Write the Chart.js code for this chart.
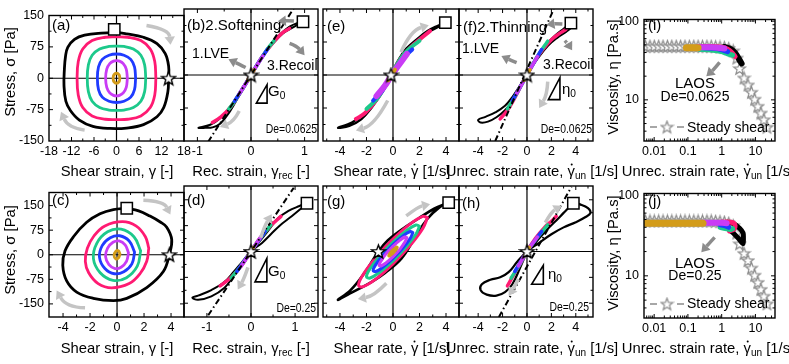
<!DOCTYPE html>
<html><head><meta charset="utf-8">
<script src="https://cdn.jsdelivr.net/npm/chart.js@4.4.0/dist/chart.umd.min.js"></script>
<style>
html,body{margin:0;padding:0;background:#fff;}
body{width:789px;height:364px;overflow:hidden;position:relative;font-family:"Liberation Sans",Arial,Helvetica,sans-serif;color:#000;}
canvas{position:absolute;z-index:1;}
.t{position:absolute;white-space:nowrap;line-height:1;font-size:14px;z-index:5;}
.c{transform:translate(-50%,-50%);}
.ax{font-size:14.8px;}
.r{transform:translate(-50%,-50%) rotate(-90deg);}
.rt{transform:translate(-100%,-50%);}
.de{font-size:13px;transform-origin:100% 50%;transform:translate(-100%,-50%) scaleX(0.8);}
.m{transform:translate(0,-50%);}
sub{font-size:68%;vertical-align:-0.3em;line-height:0;}
.big{font-size:15px;}
.gd{position:relative;display:inline-block;}
.gd::after{content:"";position:absolute;left:52%;top:0px;width:2.2px;height:2.2px;background:#000;border-radius:50%;transform:translateX(-50%);}
</style></head><body>
<!-- axis titles -->
<div class="t ax c" style="left:117px;top:171px">Shear strain, γ [-]</div>
<div class="t ax c" style="left:251px;top:171px">Rec. strain, γ<sub>rec</sub> [-]</div>
<div class="t ax c" style="left:392px;top:171px">Shear rate, <span class="gd">γ</span> [1/s]</div>
<div class="t ax c" style="left:532px;top:171px">Unrec. strain rate, <span class="gd">γ</span><sub>un</sub> [1/s]</div>
<div class="t ax c" style="left:708px;top:171px">Unrec. strain rate, <span class="gd">γ</span><sub>un</sub> [1/s]</div>
<div class="t ax c" style="left:117px;top:348px">Shear strain, γ [-]</div>
<div class="t ax c" style="left:251px;top:348px">Rec. strain, γ<sub>rec</sub> [-]</div>
<div class="t ax c" style="left:392px;top:348px">Shear rate, <span class="gd">γ</span> [1/s]</div>
<div class="t ax c" style="left:532px;top:348px">Unrec. strain rate, <span class="gd">γ</span><sub>un</sub> [1/s]</div>
<div class="t ax c" style="left:708px;top:348px">Unrec. strain rate, <span class="gd">γ</span><sub>un</sub> [1/s]</div>
<div class="t ax r" style="left:10px;top:72px">Stress, σ [Pa]</div>
<div class="t ax r" style="left:10px;top:250px">Stress, σ [Pa]</div>
<div class="t ax r" style="left:613px;top:77px">Viscosity, η [Pa.s]</div>
<div class="t ax r" style="left:613px;top:253px">Viscosity, η [Pa.s]</div>
<!-- panel annotations -->
<div class="t big m" style="left:52px;top:24px">(a)</div>
<div class="t big m" style="left:52px;top:199px">(c)</div>
<div class="t big m" style="left:187px;top:24px">(b)2.Softening</div>
<div class="t m" style="left:192px;top:53px">1.LVE</div>
<div class="t m" style="left:267px;top:65px">3.Recoil</div>
<div class="t big m" style="left:268px;top:90px">G<sub>0</sub></div>
<div class="t de" style="left:317px;top:128px">De=0.0625</div>
<div class="t big m" style="left:187px;top:199px">(d)</div>
<div class="t big m" style="left:268px;top:270px">G<sub>0</sub></div>
<div class="t de" style="left:316px;top:307px">De=0.25</div>
<div class="t big m" style="left:327px;top:25px">(e)</div>
<div class="t big m" style="left:327px;top:200px">(g)</div>
<div class="t big m" style="left:463px;top:26px">(f)2.Thinning</div>
<div class="t m" style="left:462px;top:48px">1.LVE</div>
<div class="t m" style="left:543px;top:64px">3.Recoil</div>
<div class="t big m" style="left:562px;top:88px">η<sub>0</sub></div>
<div class="t de" style="left:592px;top:128px">De=0.0625</div>
<div class="t big m" style="left:462px;top:202px">(h)</div>
<div class="t big m" style="left:548px;top:273px">η<sub>0</sub></div>
<div class="t de" style="left:589px;top:306px">De=0.25</div>
<div class="t big m" style="left:648px;top:24px">(i)</div>
<div class="t c" style="left:695px;top:82px;font-size:15px">LAOS</div>
<div class="t c" style="left:695px;top:96px">De=0.0625</div>
<div class="t m" style="left:687px;top:127px">Steady shear</div>
<div class="t big m" style="left:648px;top:200px">(j)</div>
<div class="t c" style="left:695px;top:262px;font-size:15px">LAOS</div>
<div class="t c" style="left:695px;top:275px">De=0.25</div>
<div class="t m" style="left:687px;top:303px">Steady shear</div>
<script>
// ================= DATA =================
// (a) stress vs strain, De=0.0625  [gamma, sigma]
const a_black=[[13.9,0],[13.7,-32],[12.6,-70],[10.8,-92],[7.2,-111],[2.7,-119],[-1.8,-120],[-6.3,-115],[-9.9,-100],[-12.3,-77],[-13.5,-55],[-14,-17],[-13.9,21],[-13.6,52],[-13,74],[-11.2,93],[-8.5,103],[-4,108],[0,109],[2.7,106],[7.2,98],[10.8,83],[13,59],[13.9,29],[13.9,0]];
const a_pink=[[10.5,0],[10.2,-40],[9,-70],[6.5,-90],[3,-98],[0,-99],[-3,-98],[-6.5,-90],[-9,-70],[-10.2,-40],[-10.5,0],[-10.2,40],[-9,70],[-6.5,90],[-3,98],[0,99],[3,98],[6.5,90],[9,70],[10.2,40],[10.5,0]];
const a_green=[[7.8,0],[7.5,-32],[6.5,-55],[4.5,-70],[2,-76],[0,-77],[-2,-76],[-4.5,-70],[-6.5,-55],[-7.5,-32],[-7.8,0],[-7.5,32],[-6.5,55],[-4.5,70],[-2,76],[0,77],[2,76],[4.5,70],[6.5,55],[7.5,32],[7.8,0]];
const a_blue=[[5.1,0],[4.8,-27],[3.8,-45],[2,-55],[0,-58],[-2,-55],[-3.8,-45],[-4.8,-27],[-5.1,0],[-4.8,27],[-3.8,45],[-2,55],[0,58],[2,55],[3.8,45],[4.8,27],[5.1,0]];
const a_violet=[[2.9,0],[2.6,-22],[1.8,-35],[0.8,-41],[0,-42],[-0.8,-41],[-1.8,-35],[-2.6,-22],[-2.9,0],[-2.6,22],[-1.8,35],[-0.8,41],[0,42],[0.8,41],[1.8,35],[2.6,22],[2.9,0]];
const a_orange=[[0.9,0],[0.7,-8],[0,-12],[-0.7,-8],[-0.9,0],[-0.7,8],[0,12],[0.7,8],[0.9,0]];
const a_star=[[13.9,0]], a_square=[[-0.6,117]];
// (b) stress vs recoverable strain, De=0.0625
const b_black=[[0,0],[0.2,38],[0.35,64],[0.54,92],[0.72,110],[0.88,119],[0.97,121],[0.84,112],[0.6,95],[0.4,70],[0.2,40],[0,2],[-0.2,-37],[-0.39,-72],[-0.57,-98],[-0.76,-113],[-0.98,-120],[-0.85,-120],[-0.72,-119],[-0.57,-110],[-0.39,-82],[-0.2,-42],[0,0]];
const b_pink=[[-0.72,-108],[-0.58,-97],[-0.4,-76],[-0.2,-40],[0,0],[0.2,40],[0.4,72],[0.56,93],[0.72,106]];
const b_green=[[-0.42,-78],[-0.3,-59],[-0.15,-30],[0,0],[0.15,30],[0.3,58],[0.43,78]];
const b_blue=[[-0.31,-60],[-0.15,-30],[0,0],[0.15,30],[0.31,59]];
const b_violet=[[-0.22,-43],[-0.1,-20],[0,0],[0.1,20],[0.22,43]];
const b_orange=[[-0.06,-12],[0.06,12]];
const b_G0=[[-0.8,-152],[0.8,152]];
const b_star=[[0,0]], b_square=[[0.97,121]];
// (e) stress vs shear rate, De=0.0625
const e_black=[[-0.15,0],[0.4,30],[1.0,56],[1.9,79],[2.65,97],[3.4,109],[3.95,119],[3.3,111],[2.6,100],[1.9,84],[1.0,60],[0.4,34],[0,10],[-0.4,-18],[-1.1,-48],[-2.1,-86],[-3.1,-108],[-4.15,-120],[-3.3,-116],[-2.4,-101],[-1.6,-74],[-0.8,-38],[-0.15,0]];
const e_pink=[[-2.8,-100],[-2.1,-86],[-1.1,-50],[-0.15,0],[0.6,38],[1.3,62],[2.1,83],[2.8,100]];
const e_green=[[-2.0,-77],[-1.1,-50],[-0.15,0],[0.9,50],[2.0,78]];
const e_blue=[[-1.5,-58],[-0.8,-36],[-0.1,0],[0.7,36],[1.45,58]];
const e_violet=[[-1.25,-48],[-0.6,-24],[-0.1,0],[0.5,25],[1.05,48]];
const e_orange=[[-0.35,-12],[0.15,12]];
const e_star=[[-0.15,0]], e_square=[[3.95,119]];
// (f) stress vs unrecoverable strain rate, De=0.0625
const f_black=[[0,0],[0.8,40],[1.6,70],[2.4,92],[3.0,105],[3.6,118],[3.7,110],[3.2,98],[2.5,85],[1.7,66],[0.9,38],[0,2],[-0.6,-25],[-1.2,-50],[-1.8,-70],[-2.6,-85],[-3.4,-95],[-4.0,-102],[-3.8,-108],[-3.2,-106],[-2.5,-96],[-1.8,-80],[-1.2,-60],[-0.6,-30],[0,0]];
const f_pink=[[-2.2,-100],[-1.6,-80],[-1.0,-52],[-0.4,-20],[0,0],[0.6,30],[1.3,58],[2.0,80],[2.7,95],[3.2,104]];
const f_green=[[-1.6,-77],[-0.8,-40],[0,0],[0.8,40],[1.7,77]];
const f_blue=[[-1.2,-58],[0,0],[1.2,58]];
const f_violet=[[-0.85,-42],[0,0],[0.85,42]];
const f_orange=[[-0.25,-12],[0.25,12]];
const f_eta0=[[-2.6,-150],[2.2,150]];
const f_star=[[0,0]], f_square=[[3.6,118]];
// (c) stress vs strain, De=0.25
const c_black=[[0.72,142],[1.6,134],[2.44,118],[3.2,100],[3.68,84],[4.05,46],[3.87,0],[3.43,-51],[2.2,-100],[0.72,-133],[-0.27,-140],[-1.76,-133],[-2.99,-114],[-3.73,-80],[-4.02,-32],[-3.85,12],[-3.23,55],[-2.25,99],[-1.26,125],[-0.27,138],[0.72,142]];
const c_pink=[[2.35,20],[2.2,-20],[1.7,-58],[0.9,-88],[-0.4,-101],[-1.4,-88],[-2.1,-55],[-2.35,-20],[-2.2,20],[-1.7,58],[-0.9,88],[0.4,101],[1.4,88],[2.1,55],[2.35,20]];
const c_green=[[1.75,12],[1.5,-35],[0.7,-70],[-0.3,-78],[-1.25,-55],[-1.75,-12],[-1.5,35],[-0.7,70],[0.3,78],[1.25,55],[1.75,12]];
const c_blue=[[1.3,8],[1.1,-28],[0.5,-52],[-0.2,-58],[-0.9,-42],[-1.3,-8],[-1.1,28],[-0.5,52],[0.2,58],[0.9,42],[1.3,8]];
const c_violet=[[0.85,6],[0.7,-20],[0.3,-38],[-0.15,-42],[-0.6,-30],[-0.85,-6],[-0.7,20],[-0.3,38],[0.15,42],[0.6,30],[0.85,6]];
const c_orange=[[0.22,2],[0.1,-10],[-0.1,-12],[-0.22,-2],[-0.1,10],[0.1,12],[0.22,2]];
const c_star=[[3.87,0]], c_square=[[0.72,142]];
// (d) stress vs recoverable strain, De=0.25
const d_black=[[0,0],[0.2,30],[0.4,62],[0.6,95],[0.85,118],[1.1,132],[1.27,140],[1.15,126],[0.9,100],[0.65,75],[0.45,50],[0.25,25],[0,0],[-0.2,-30],[-0.4,-60],[-0.6,-88],[-0.9,-112],[-1.2,-128],[-1.33,-134],[-1.2,-140],[-0.9,-130],[-0.6,-105],[-0.42,-75],[-0.2,-35],[0,0]];
const d_pink=[[-0.7,-100],[-0.45,-75],[-0.2,-38],[0,0],[0.2,38],[0.45,75],[0.68,102]];
const d_green=[[-0.45,-77],[-0.22,-40],[0,0],[0.22,40],[0.45,77]];
const d_blue=[[-0.32,-58],[0,0],[0.32,58]];
const d_violet=[[-0.22,-42],[0,0],[0.22,42]];
const d_orange=[[-0.06,-12],[0.06,12]];
const d_G0=[[-0.97,-185],[0.97,185]];
const d_star=[[0,0]], d_square=[[1.27,140]];
// (g) stress vs shear rate, De=0.25
const g_black=[[4.2,142],[3.5,128],[2.6,95],[1.65,40],[0.65,-20],[-0.6,-62],[-1.6,-88],[-2.65,-110],[-3.4,-125],[-4.15,-140],[-3.2,-112],[-2.15,-62],[-1.1,0],[-0.4,32],[0.6,62],[1.9,95],[3.1,124],[4.2,142]];
const g_pink=[[2.6,98],[2.25,102],[1.3,80],[0,36],[-1.3,-18],[-2.25,-67],[-2.6,-98],[-2.25,-102],[-1.3,-80],[0,-36],[1.3,18],[2.25,67],[2.6,98]];
const g_green=[[2.0,73],[1.73,77],[1.0,60],[0,27],[-1.0,-14],[-1.73,-50],[-2.0,-73],[-1.73,-77],[-1.0,-60],[0,-27],[1.0,14],[1.73,50],[2.0,73]];
const g_blue=[[1.5,55],[1.3,58],[0.75,45],[0,20],[-0.75,-10],[-1.3,-38],[-1.5,-55],[-1.3,-58],[-0.75,-45],[0,-20],[0.75,10],[1.3,38],[1.5,55]];
const g_violet=[[1.05,40],[0.91,42],[0.53,33],[0,15],[-0.53,-7],[-0.91,-28],[-1.05,-40],[-0.91,-42],[-0.53,-33],[0,-15],[0.53,7],[0.91,28],[1.05,40]];
const g_orange=[[0.32,12],[0.28,13],[0.16,10],[0,4.5],[-0.16,-2],[-0.28,-8],[-0.32,-12],[-0.28,-13],[-0.16,-10],[0,-4.5],[0.16,2],[0.28,8],[0.32,12]];
const g_star=[[-1.1,0]], g_square=[[4.2,142]];
// (h) stress vs unrecoverable strain rate, De=0.25
const h_black=[[0,0],[0.8,30],[1.6,62],[2.4,90],[3.0,112],[3.5,130],[3.8,140],[4.4,136],[5.0,126],[5.2,112],[4.8,100],[4.0,85],[3.0,70],[2.0,50],[1.0,25],[0,0],[-0.8,-30],[-1.5,-60],[-2.2,-75],[-3.0,-82],[-3.7,-95],[-3.8,-112],[-3.3,-125],[-2.5,-128],[-1.8,-118],[-1.2,-95],[-0.6,-50],[0,0]];
const h_pink=[[-1.6,-100],[-1.0,-62],[-0.5,-32],[0,0],[0.7,38],[1.5,72],[2.0,88],[2.4,102]];
const h_green=[[-1.3,-77],[-0.6,-38],[0,0],[0.8,38],[1.7,77]];
const h_blue=[[-1.0,-58],[0,0],[1.2,58]];
const h_violet=[[-0.7,-42],[0,0],[0.85,42]];
const h_orange=[[-0.2,-12],[0.2,12]];
const h_eta0=[[-2.3,-190],[3.65,188]];
const h_star=[[0,0]], h_square=[[3.8,140]];
// (i),(j) viscosity vs unrecoverable strain rate
const ss_rate=[0.0055,0.0075,0.0101,0.0136,0.0183,0.0247,0.0333,0.045,0.0606,0.0818,0.11,0.149,0.2,0.27,0.365,0.49,0.66,0.89,1.2,1.62,2.2,2.8,3.4,4.6,6.0,7.6,9.5,11.8,14.5,17.8,22];
const ss_visc=[48,48,48,48,48,48,48,48,48,48,48,48,48,48,48,48,47.5,47,46.5,45,42,34,25,19,15.5,12.5,10.2,8.3,6.8,5.6,4.5];
const i_black=[[1.2,47],[1.7,45],[2.3,41],[2.9,36],[3.4,32],[3.9,29]];
const i_pink=[[0.2,47.5],[0.5,47.5],[1.0,46.5],[1.5,44],[2.0,40],[2.5,35.5]];
const i_green=[[0.22,44],[0.5,43],[1.0,41],[1.5,38.5],[2.1,37]];
const i_blue=[[0.3,46],[0.7,45],[1.1,43],[1.5,41]];
const i_violet=[[0.2,46.5],[0.5,46.5],[0.9,45.5],[1.2,45]];
const i_orange=[[0.09,46],[0.13,46],[0.2,46]];
const j_black=[[1.25,41],[2.2,34],[3.4,28],[4.3,25],[4.4,30],[4.3,34],[3.4,39],[2.2,44.5],[1.5,46]];
const j_pink=[[0.8,46],[1.5,46.5],[2.2,45.5],[2.5,42],[2.3,38],[1.7,36]];
const j_green=[[0.9,40],[1.3,38.5],[1.8,37.5],[2.1,38.5]];
const j_blue=[[0.9,43],[1.2,42],[1.6,40]];
const j_violet=[[0.25,45.5],[0.6,45.5],[1.0,45.5],[1.4,45]];
const j_orange=[[0.0048,45],[0.02,45],[0.08,45],[0.28,45]];
// axis tick values
const tk_strainA=[-18,-12,-6,0,6,12,18], tk_strainC=[-4,-2,0,2,4], tk_rec=[-1,0,1], tk_rate=[-4,-2,0,2,4];
const tk_stress=[-150,-75,0,75,150], tk_logx=[0.01,0.1,1,10], tk_logy=[10,100];

// ================= RENDERING =================
Chart.defaults.font.family='"Liberation Sans", Arial, sans-serif';
Chart.defaults.font.size=12.5;
Chart.defaults.color='#000';
const COL={black:'#000000',pink:'#ff1a72',green:'#1dc98b',blue:'#1f3bff',violet:'#c93cf5',orange:'#d39c1a'};
const LIGHT='#c4c4c4', DARK='#8c8c8c';
const P=a=>a.map(p=>({x:p[0],y:p[1]}));
function starImg(size,stroke,lw){
  const c=document.createElement('canvas');c.width=c.height=size;const g=c.getContext('2d');
  const R=size/2-lw,r=R*0.42,cx=size/2,cy=size/2+R*0.08;g.beginPath();
  for(let i=0;i<10;i++){const a=-Math.PI/2+i*Math.PI/5,rr=i%2?r:R;g.lineTo(cx+rr*Math.cos(a),cy+rr*Math.sin(a));}
  g.closePath();g.fillStyle='#fff';g.fill();g.lineWidth=lw;g.strokeStyle=stroke;g.lineJoin='miter';g.stroke();return c;
}
const STAR=starImg(17,'#000',1.4), STARG=starImg(15,'#8a8a8a',1.2);
function ln(d,c,w,t){return {data:P(d),showLine:true,borderColor:c,backgroundColor:c,borderWidth:w,pointRadius:0,tension:(t===undefined?0.4:t),fill:false,borderCapStyle:'round',borderJoinStyle:'round'};}
function dashd(d){return {data:P(d),showLine:true,borderColor:'#000',borderWidth:2,borderDash:[6,3,1.5,3],pointRadius:0,tension:0};}
function star(d){return {data:P(d),showLine:false,pointStyle:STAR,pointRadius:8};}
function sq(d){return {data:P(d),showLine:false,pointStyle:'rect',pointRadius:8,pointBackgroundColor:'#fff',pointBorderColor:'#000',pointBorderWidth:1.5};}
function six(o,b,p,g,bl,v,w,wv,wb){return [ln(o,COL.orange,w),ln(v,COL.violet,wv||w),ln(bl,COL.blue,w),ln(g,COL.green,w),ln(p,COL.pink,w),ln(b,COL.black,wb||w)];}

function drawArrow(ctx,pts,color,w){
  const s=pts[0],m=pts[1],e=pts[2];
  const cx=2*m[0]-(s[0]+e[0])/2, cy=2*m[1]-(s[1]+e[1])/2;
  let dx=e[0]-cx,dy=e[1]-cy;const L=Math.hypot(dx,dy)||1;dx/=L;dy/=L;
  const hl=w*2.3,hw=w*1.5,bx=e[0]-dx*hl,by=e[1]-dy*hl;
  ctx.strokeStyle=color;ctx.fillStyle=color;ctx.lineWidth=w;ctx.lineCap='butt';
  ctx.beginPath();ctx.moveTo(s[0],s[1]);ctx.quadraticCurveTo(cx,cy,bx,by);ctx.stroke();
  ctx.beginPath();ctx.moveTo(e[0],e[1]);ctx.lineTo(bx-dy*hw,by+dx*hw);ctx.lineTo(bx+dy*hw,by-dx*hw);ctx.closePath();ctx.fill();
}
const deco={id:'deco',
  beforeDatasetsDraw(chart){
    const o=chart.canvas._deco;if(!o||!o.zero)return;
    const ctx=chart.ctx,ca=chart.chartArea,x=chart.scales.x,y=chart.scales.y;
    ctx.save();ctx.strokeStyle='#000';ctx.lineWidth=1.2;ctx.beginPath();
    const px=x.getPixelForValue(0),py=y.getPixelForValue(0);
    ctx.moveTo(px,ca.top);ctx.lineTo(px,ca.bottom);ctx.moveTo(ca.left,py);ctx.lineTo(ca.right,py);ctx.stroke();ctx.restore();
  },
  afterDatasetsDraw(chart){
    const o=chart.canvas._deco;const ctx=chart.ctx,ca=chart.chartArea,x=chart.scales.x,y=chart.scales.y;
    ctx.save();
    (o.tri||[]).forEach(t=>{ctx.strokeStyle='#000';ctx.lineWidth=1.6;ctx.lineJoin='miter';ctx.beginPath();
      t.forEach((q,i)=>{const X=x.getPixelForValue(q[0]),Y=y.getPixelForValue(q[1]);i?ctx.lineTo(X,Y):ctx.moveTo(X,Y);});ctx.closePath();ctx.stroke();});
    (o.arrows||[]).forEach(a=>drawArrow(ctx,a.p.map(q=>[x.getPixelForValue(q[0]),y.getPixelForValue(q[1])]),a.c,a.w||3.5));
    if(o.legend){const yy=ca.bottom-14,x0=ca.left+6;ctx.strokeStyle='#8a8a8a';ctx.lineWidth=1.3;ctx.beginPath();
      ctx.moveTo(x0,yy);ctx.lineTo(x0+7,yy);ctx.moveTo(x0+27,yy);ctx.lineTo(x0+34,yy);ctx.stroke();
      ctx.drawImage(STARG,x0+17-STARG.width/2,yy-STARG.height/2);}
    ctx.strokeStyle='#000';ctx.lineWidth=1.4;ctx.strokeRect(ca.left,ca.top,ca.right-ca.left,ca.bottom-ca.top);
    ctx.lineWidth=1;ctx.beginPath();
    const tk=(vals,len,isX)=>(vals||[]).forEach(v=>{
      if(isX){const p=x.getPixelForValue(v);if(p<ca.left+1||p>ca.right-1)return;ctx.moveTo(p,ca.bottom);ctx.lineTo(p,ca.bottom-len);ctx.moveTo(p,ca.top);ctx.lineTo(p,ca.top+len);}
      else{const p=y.getPixelForValue(v);if(p<ca.top+1||p>ca.bottom-1)return;ctx.moveTo(ca.left,p);ctx.lineTo(ca.left+len,p);ctx.moveTo(ca.right,p);ctx.lineTo(ca.right-len,p);}});
    tk(o.xt,4,true);tk(o.xm,2.5,true);tk(o.yt,4,false);tk(o.ym,2.5,false);ctx.stroke();
    ctx.restore();
  }};

function panel(o){
  const [L,T,W,H]=o.rect;const mL=o.yLab?48:14,mR=16,mT=6,mB=24;
  const cv=document.createElement('canvas');cv.width=W+mL+mR;cv.height=H+mT+mB;
  cv.style.left=(L-mL)+'px';cv.style.top=(T-mT)+'px';cv.style.width=cv.width+'px';cv.style.height=cv.height+'px';
  cv._deco=o.deco;document.body.appendChild(cv);
  new Chart(cv,{type:'scatter',data:{datasets:o.ds},plugins:[deco],
    options:{responsive:false,animation:false,devicePixelRatio:1,events:[],
      layout:{autoPadding:false,padding:{left:0,right:mR,top:mT,bottom:0}},
      plugins:{legend:{display:false},tooltip:{enabled:false}},
      scales:{
        x:{type:o.xType||'linear',min:o.x[0],max:o.x[1],grid:{display:false,drawTicks:false},border:{display:false},
          ticks:{autoSkip:false,maxRotation:0,minRotation:0,padding:3,callback:v=>String(v)},
          afterBuildTicks:s=>{s.ticks=o.xLab.map(v=>({value:v}));},afterFit:s=>{s.height=mB;}},
        y:{type:o.yType||'linear',min:o.y[0],max:o.y[1],grid:{display:false,drawTicks:false},border:{display:false},
          ticks:{display:!!o.yLab,autoSkip:false,padding:5,callback:v=>String(v)},
          afterBuildTicks:s=>{s.ticks=(o.yLabV||[]).map(v=>({value:v}));},afterFit:s=>{s.width=mL;}}
      }}});
}
const stressMinor=[-112.5,-37.5,37.5,112.5];
const logMinX=[0.006,0.007,0.008,0.009,0.02,0.03,0.04,0.05,0.06,0.07,0.08,0.09,0.2,0.3,0.4,0.5,0.6,0.7,0.8,0.9,2,3,4,5,6,7,8,9,20,30];
const logMinY=[4,5,6,7,8,9,20,30,40,50,60,70,80,90];
function steady(){return {data:ss_rate.map((r,k)=>({x:r,y:ss_visc[k]})),showLine:true,borderColor:'#8a8a8a',borderWidth:1.2,borderDash:[4,3],pointStyle:STARG,pointRadius:7,tension:0};}
// (a)
panel({rect:[49,9,135,132],yLab:true,x:[-18,18],y:[-150,150],xLab:tk_strainA,yLabV:tk_stress,
  ds:[sq(a_square),star(a_star),...six(a_orange,a_black,a_pink,a_green,a_blue,a_violet,2.8)],
  deco:{zero:true,xt:tk_strainA,xm:[-15,-9,-3,3,9,15],yt:tk_stress,ym:stressMinor,
    arrows:[{p:[[8,126],[12.6,110],[14.4,80]],c:LIGHT},{p:[[-8.5,-124],[-12.3,-110],[-14.8,-80]],c:LIGHT}]}});
// (b)
panel({rect:[184,9,134,132],x:[-1.25,1.25],y:[-150,150],xLab:tk_rec,
  ds:[sq(b_square),star(b_star),dashd(b_G0),...six(b_orange,b_black,b_pink,b_green,b_blue,b_violet,3.5,3.5,2)],
  deco:{zero:true,xt:tk_rec,xm:[-0.5,0.5],yt:tk_stress,ym:stressMinor,tri:[[[0.1,-64],[0.3,-64],[0.3,-22]]],
    arrows:[{p:[[0.8,123],[0.67,123],[0.5,122]],c:DARK},{p:[[-0.1,17],[-0.25,26],[-0.42,36]],c:DARK},
      {p:[[0.72,72],[0.86,62],[1.0,45]],c:DARK},{p:[[-0.22,-82],[-0.36,-103],[-0.58,-118]],c:LIGHT}]}});
// (e)
panel({rect:[323,9,136,132],x:[-5.28,4.98],y:[-150,150],xLab:tk_rate,
  ds:[sq(e_square),star(e_star),...six(e_orange,e_black,e_pink,e_green,e_blue,e_violet,4,6,2.2)],
  deco:{zero:true,xt:tk_rate,xm:[-5,-3,-1,1,3],yt:tk_stress,ym:stressMinor,
    arrows:[{p:[[0.6,52],[1.5,92],[2.7,113]],c:LIGHT},{p:[[-0.4,-58],[-1.5,-103],[-2.8,-126]],c:LIGHT}]}});
// (f)
panel({rect:[459,9,134,132],x:[-5.57,5.41],y:[-150,150],xLab:tk_rate,
  ds:[sq(f_square),star(f_star),dashd(f_eta0),...six(f_orange,f_black,f_pink,f_green,f_blue,f_violet,3.5,3.5,2)],
  deco:{zero:true,xt:tk_rate,xm:[-5,-3,-1,1,3,5],yt:tk_stress,ym:stressMinor,tri:[[[1.75,-56],[2.7,-56],[2.7,-6]]],
    arrows:[{p:[[2.9,116],[2.3,116],[1.6,114]],c:DARK},{p:[[-0.85,28],[-1.45,35],[-2.1,43]],c:DARK},
      {p:[[3.1,78],[3.4,68],[3.7,56]],c:DARK},{p:[[1.7,-15],[1.5,-45],[1.0,-75]],c:LIGHT}]}});
// (i)
panel({rect:[644,13,131,128],yLab:true,xType:'logarithmic',yType:'logarithmic',x:[0.005,38],y:[3,105],xLab:tk_logx,yLabV:tk_logy,
  ds:[ln(i_orange,COL.orange,7,0.3),ln(i_violet,COL.violet,6,0.3),ln(i_blue,COL.blue,5,0.3),ln(i_green,COL.green,5,0.3),ln(i_pink,COL.pink,5,0.3),ln(i_black,COL.black,6,0.3),steady()],
  deco:{legend:true,xt:tk_logx,xm:logMinX,yt:tk_logy,ym:logMinY,arrows:[{p:[[0.87,30],[0.57,24.5],[0.35,20]],c:DARK}]}});
// (c)
panel({rect:[49,186,135,131],yLab:true,x:[-5.04,4.96],y:[-190,190],xLab:tk_strainC,yLabV:tk_stress,
  ds:[sq(c_square),star(c_star),...six(c_orange,c_black,c_pink,c_green,c_blue,c_violet,2.8)],
  deco:{zero:true,xt:tk_strainC,xm:[-5,-3,-1,1,3],yt:tk_stress,ym:stressMinor,
    arrows:[{p:[[1.95,166],[3.2,154],[3.95,123]],c:LIGHT},{p:[[-2.37,-162],[-3.6,-148],[-4.47,-109]],c:LIGHT}]}});
// (d)
panel({rect:[184,186,134,131],x:[-1.52,1.52],y:[-190,190],xLab:tk_rec,
  ds:[sq(d_square),star(d_star),dashd(d_G0),...six(d_orange,d_black,d_pink,d_green,d_blue,d_violet,3.5,3.5,2)],
  deco:{zero:true,xt:tk_rec,xm:[-1.5,-0.5,0.5,1.5],yt:tk_stress,ym:stressMinor,tri:[[[0.09,-88],[0.36,-88],[0.36,-20]]],
    arrows:[{p:[[0.22,40],[0.33,75],[0.47,108]],c:LIGHT},{p:[[-0.07,-46],[-0.17,-78],[-0.3,-110]],c:LIGHT}]}});
// (g)
panel({rect:[323,186,136,131],x:[-5.28,4.98],y:[-190,190],xLab:tk_rate,
  ds:[sq(g_square),star(g_star),...six(g_orange,g_black,g_pink,g_green,g_blue,g_violet,3,3,2.6)],
  deco:{zero:true,xt:tk_rate,xm:[-5,-3,-1,1,3],yt:tk_stress,ym:stressMinor,
    arrows:[{p:[[1.0,103],[1.9,125],[2.8,137]],c:LIGHT},{p:[[-0.5,-92],[-1.5,-122],[-2.65,-138]],c:LIGHT}]}});
// (h)
panel({rect:[459,186,134,131],x:[-5.57,5.41],y:[-190,190],xLab:tk_rate,
  ds:[sq(h_square),star(h_star),dashd(h_eta0),...six(h_orange,h_black,h_pink,h_green,h_blue,h_violet,3.5,3.5,2.2)],
  deco:{zero:true,xt:tk_rate,xm:[-5,-3,-1,1,3,5],yt:tk_stress,ym:stressMinor,tri:[[[0.38,-95],[1.34,-95],[1.34,-40]]],
    arrows:[{p:[[1.5,84],[2.1,112],[2.85,133]],c:LIGHT},{p:[[-0.7,-80],[-1.1,-105],[-1.5,-128]],c:LIGHT}]}});
// (j)
panel({rect:[644,187,131,131],yLab:true,xType:'logarithmic',yType:'logarithmic',x:[0.005,38],y:[3,105],xLab:tk_logx,yLabV:tk_logy,
  ds:[ln(j_orange,COL.orange,7,0.3),ln(j_violet,COL.violet,6,0.3),ln(j_blue,COL.blue,5,0.3),ln(j_green,COL.green,5,0.3),ln(j_pink,COL.pink,5,0.3),ln(j_black,COL.black,5,0.3),steady()],
  deco:{legend:true,xt:tk_logx,xm:logMinX,yt:tk_logy,ym:logMinY,arrows:[{p:[[0.62,30],[0.4,24.5],[0.25,19.6]],c:DARK}]}});
</script>
</body></html>
